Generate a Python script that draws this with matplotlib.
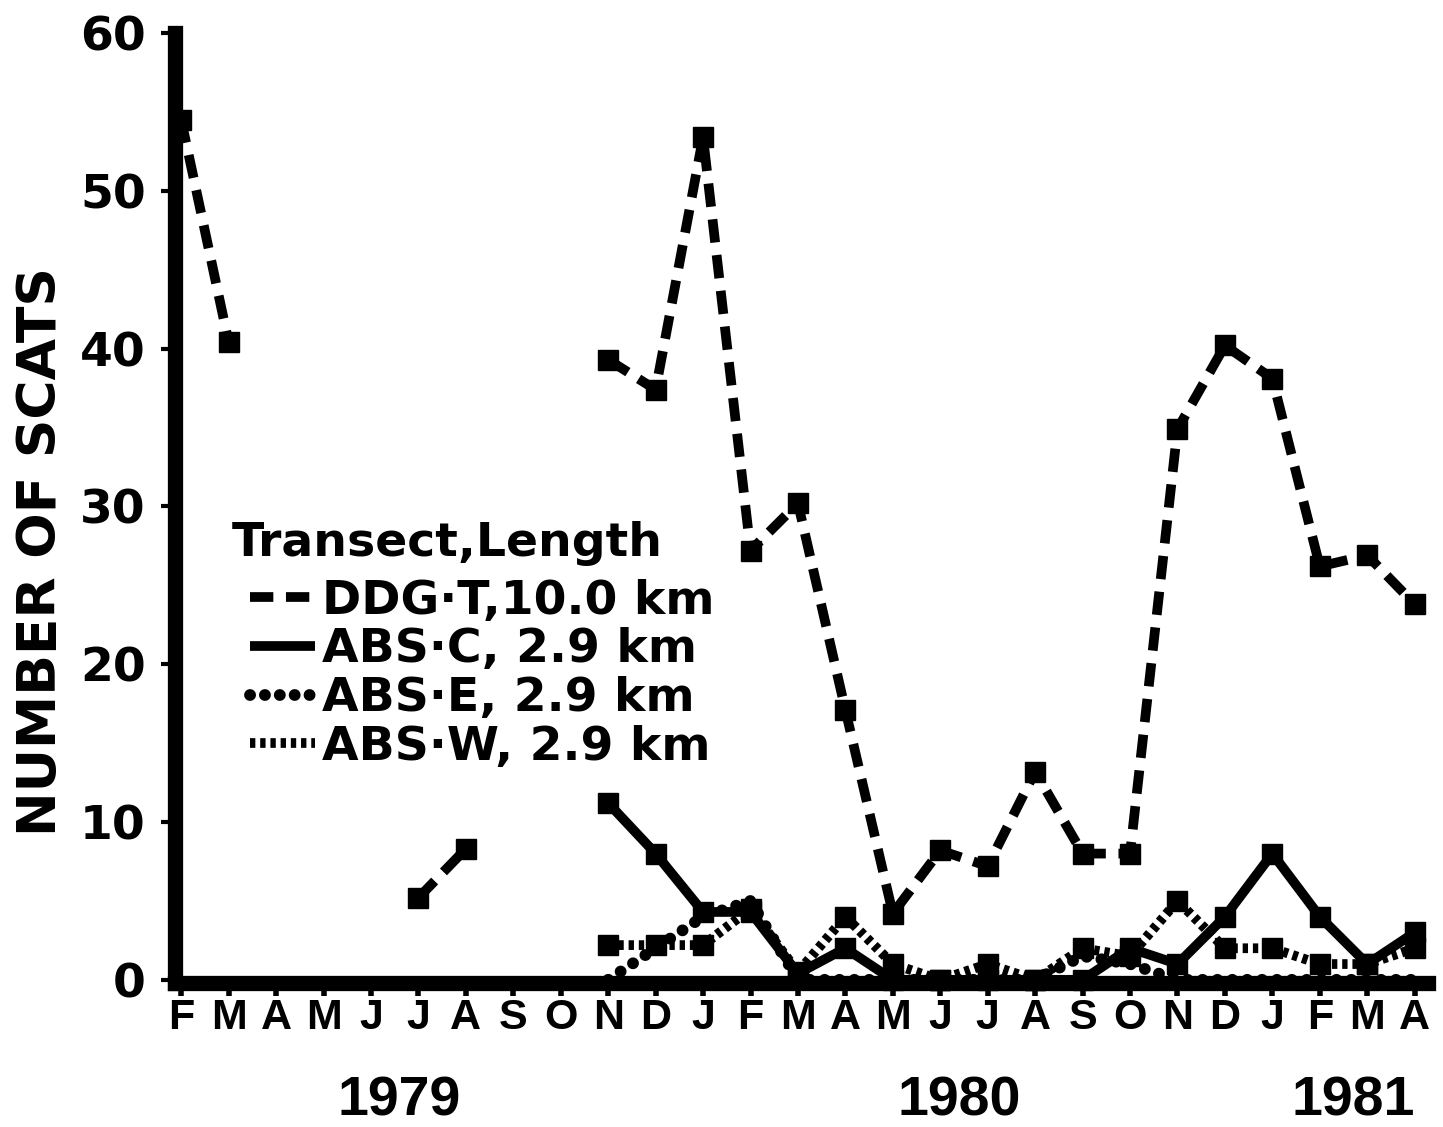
import numpy as np
import matplotlib.pyplot as plt
from matplotlib.lines import Line2D

nan = np.nan

months = ["F", "M", "A", "M", "J", "J", "A", "S", "O", "N", "D", "J", "F",
          "M", "A", "M", "J", "J", "A", "S", "O", "N", "D", "J", "F", "M", "A"]
years = ["1979", "1980", "1981"]
year_pos = [4.6, 16.4, 24.7]

ddg_t = [54.5, 40.4, nan, nan, nan, 5.2, 8.3, nan, nan, 39.3, 37.4, 53.4, 27.2,
         30.2, 17.1, 4.2, 8.2, 7.2, 13.2, 8.0, 8.0, 34.9, 40.2, 38.1, 26.2, 26.9, 23.8]
abs_c = [nan] * 9 + [11.2, 8.0, 4.3, 4.3, 0.4, 2.0, 0.0, 0.0, 0.0, 0.0, 0.0,
                     2.0, 1.0, 4.0, 8.0, 4.0, 1.0, 3.0]
abs_e = [nan] * 9 + [0.0, 2.0, 4.0, 5.0, 0.0, 0.0, 0.0, 0.0, 0.0, 0.0, 1.5,
                     1.0, 0.0, 0.0, 0.0, 0.0, 0.0, 0.0]
abs_w = [nan] * 9 + [2.2, 2.2, 2.2, 4.5, 0.5, 4.0, 1.0, 0.0, 1.0, 0.0, 2.0,
                     1.5, 5.0, 2.0, 2.0, 1.0, 1.0, 2.0]

x = np.arange(len(months))

fig = plt.figure(figsize=(14.43, 11.27), dpi=100)
ax = fig.add_axes([0.1213, 0.1278, 0.8683, 0.8429])

dash_style = dict(color="black", lw=7, dashes=(2.4, 1.3), dash_capstyle="butt")
solid_style = dict(color="black", lw=7, solid_capstyle="butt")
edot_style = dict(color="black", lw=8.5, dashes=(0.01, 1.25), dash_capstyle="round")
wdot_style = dict(color="black", lw=7, dashes=(0.55, 0.5), dash_capstyle="butt")
sq = dict(marker="s", ms=14, mfc="black", mec="black")

ax.plot(x, abs_e, clip_on=False, zorder=3, **edot_style)
ax.plot(x, abs_w, clip_on=False, zorder=3, **wdot_style, **sq)
ax.plot(x, abs_c, clip_on=False, zorder=4, **solid_style, **sq)
ax.plot(x, ddg_t, clip_on=False, zorder=5, **dash_style, **sq)

ax.set_xlim(-0.13, 26.28)
ax.set_ylim(-0.2, 60)

for s in ["top", "right"]:
    ax.spines[s].set_visible(False)
for s in ["left", "bottom"]:
    ax.spines[s].set_linewidth(11)
    ax.spines[s].set_capstyle("projecting")

ax.set_yticks([0, 10, 20, 30, 40, 50, 60])
ax.set_yticklabels(["0", "10", "20", "30", "40", "50", "60"],
                   fontfamily="DejaVu Sans", fontweight="bold", fontsize=34)
ax.set_xticks(x)
ax.set_xticklabels(months, fontfamily="Liberation Sans", fontweight="bold", fontsize=31)
ax.tick_params(axis="y", length=10, width=3, pad=11)
ax.tick_params(axis="x", length=9, width=4, pad=2)

for yr, pos in zip(years, year_pos):
    ax.text(pos, -0.125, yr, transform=ax.get_xaxis_transform(), ha="center", va="center",
            fontfamily="Liberation Sans", fontweight="bold", fontsize=40)

ax.set_ylabel("NUMBER OF SCATS", fontfamily="DejaVu Sans", fontweight="bold",
              fontsize=38.5)
ax.yaxis.set_label_coords(-0.0862, 0.454)

# legend: title drawn as its own text, entries below it
ax.text(0.0455, 0.463, "Transect,Length", transform=ax.transAxes, ha="left", va="center",
        fontfamily="DejaVu Sans", fontweight="bold", fontsize=34)
handles = [Line2D([], [], **dash_style), Line2D([], [], **solid_style),
           Line2D([], [], **edot_style), Line2D([], [], **wdot_style)]
labels = ["DDG·T,10.0 km", "ABS·C, 2.9 km", "ABS·E, 2.9 km", "ABS·W, 2.9 km"]
leg = ax.legend(handles, labels, loc="center left",
                bbox_to_anchor=(0.06, 0.325), frameon=False,
                prop={"family": "DejaVu Sans", "weight": "bold", "size": 34},
                handlelength=1.38, handletextpad=0.15, labelspacing=0.08,
                borderpad=0, borderaxespad=0)

fig.savefig("out.png", dpi=100)
